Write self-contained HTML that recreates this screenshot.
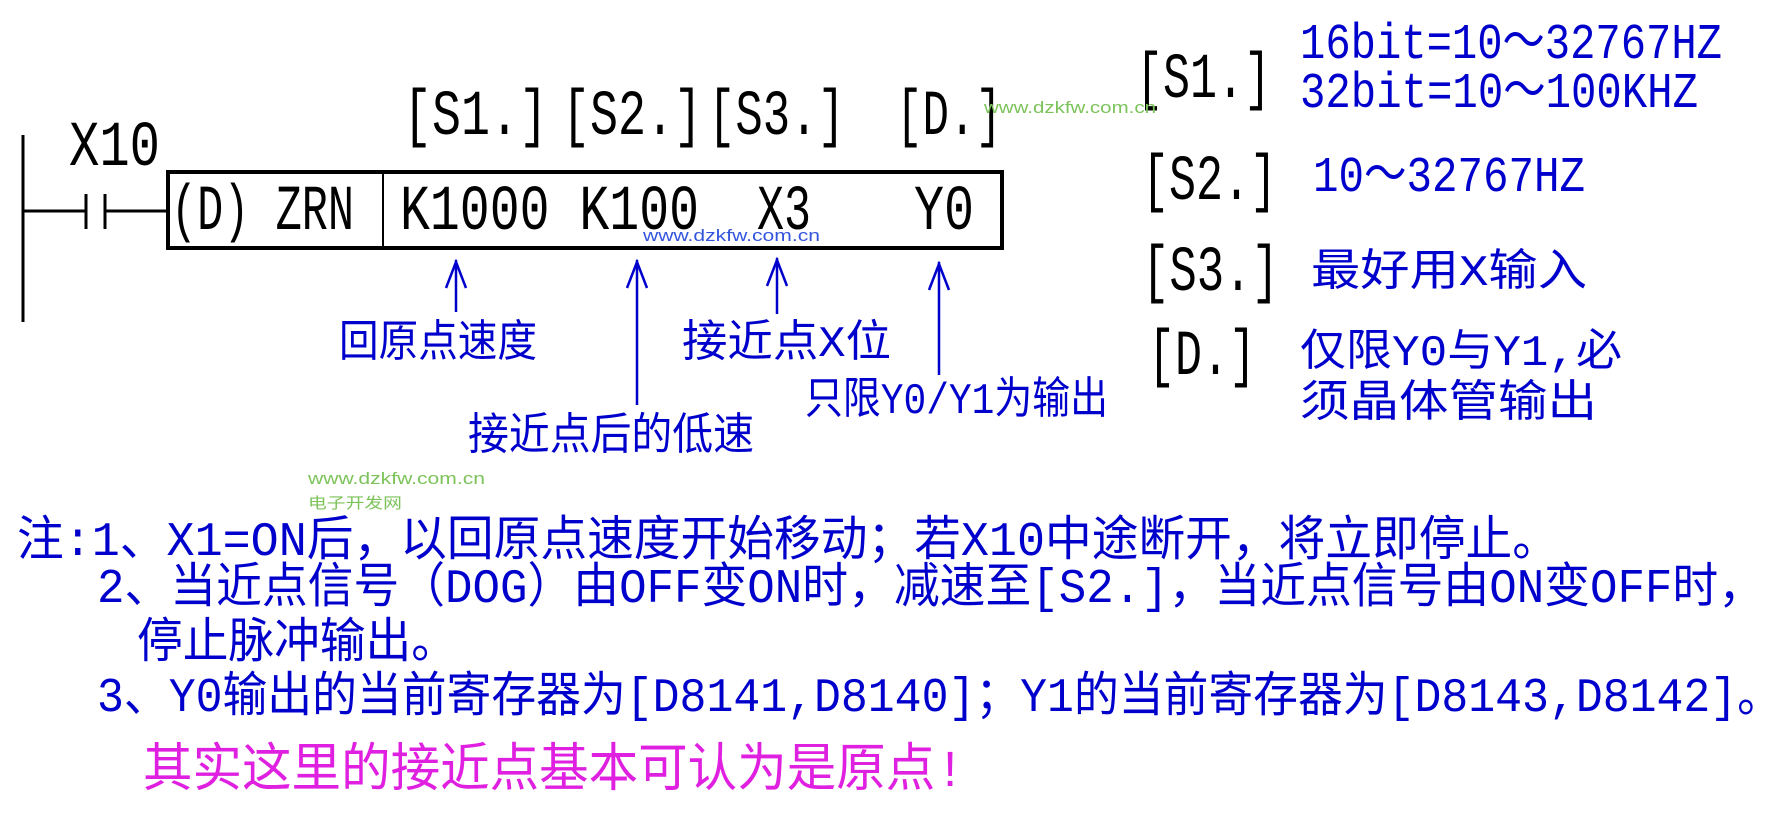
<!DOCTYPE html>
<html><head><meta charset="utf-8"><style>
html,body{margin:0;padding:0;background:#fff;}
svg{display:block;}
text{font-family:"Liberation Mono","Noto Sans CJK SC",monospace;}
.b{fill:#0000cc;}
.k{fill:#000;}
</style></head><body>
<svg width="1791" height="816" viewBox="0 0 1791 816" xmlns="http://www.w3.org/2000/svg">
<g stroke="#000" stroke-width="3" fill="none">
<line x1="23" y1="135" x2="23" y2="322"/>
<line x1="23" y1="211" x2="86" y2="211"/>
<line x1="86" y1="194" x2="86" y2="229"/>
<line x1="105" y1="194" x2="105" y2="229"/>
<line x1="105" y1="211" x2="168" y2="211"/>
<rect x="168" y="172" width="834" height="76" stroke-width="4"/>
<line x1="383" y1="172" x2="383" y2="248" stroke-width="2"/>
</g>
<g class="k" font-size="64">
<text x="69" y="165" textLength="91" lengthAdjust="spacingAndGlyphs">X10</text>
<text x="171" y="229" textLength="183" lengthAdjust="spacingAndGlyphs">(D) ZRN</text>
<text x="400" y="229" textLength="299" lengthAdjust="spacingAndGlyphs">K1000 K100</text>
<text x="757" y="229" textLength="54" lengthAdjust="spacingAndGlyphs">X3</text>
<text x="914" y="229" textLength="60" lengthAdjust="spacingAndGlyphs">Y0</text>
<text x="403" y="134" textLength="145" lengthAdjust="spacingAndGlyphs">[S1.]</text>
<text x="562" y="134" textLength="140" lengthAdjust="spacingAndGlyphs">[S2.]</text>
<text x="708" y="134" textLength="137" lengthAdjust="spacingAndGlyphs">[S3.]</text>
<text x="896" y="134" textLength="106" lengthAdjust="spacingAndGlyphs">[D.]</text>
<text x="1136" y="97" textLength="135" lengthAdjust="spacingAndGlyphs">[S1.]</text>
<text x="1142" y="199" textLength="135" lengthAdjust="spacingAndGlyphs">[S2.]</text>
<text x="1142" y="290" textLength="137" lengthAdjust="spacingAndGlyphs">[S3.]</text>
<text x="1148" y="374" textLength="108" lengthAdjust="spacingAndGlyphs">[D.]</text>
</g>
<g stroke="#0000cc" stroke-width="2.5" fill="none">
<line x1="456" y1="260" x2="456" y2="312"/><polyline points="446,288 456,262 466,288"/>
<line x1="637" y1="260" x2="637" y2="405"/><polyline points="627,288 637,262 647,288"/>
<line x1="777" y1="258" x2="777" y2="314"/><polyline points="767,286 777,260 787,286"/>
<line x1="939" y1="262" x2="939" y2="375"/><polyline points="929,290 939,264 949,290"/>
</g>
<g class="b" font-size="44">
<text x="339" y="356" textLength="198" lengthAdjust="spacingAndGlyphs">回原点速度</text>
<text x="682" y="356" textLength="209" lengthAdjust="spacingAndGlyphs">接近点X位</text>
<text x="805" y="413" textLength="303" lengthAdjust="spacingAndGlyphs">只限Y0/Y1为输出</text>
<text x="468" y="449" textLength="286" lengthAdjust="spacingAndGlyphs">接近点后的低速</text>
<text x="1300" y="58" font-size="50" textLength="422" lengthAdjust="spacingAndGlyphs">16bit=10～32767HZ</text>
<text x="1300" y="107" font-size="50" textLength="398" lengthAdjust="spacingAndGlyphs">32bit=10～100KHZ</text>
<text x="1313" y="191" font-size="50" textLength="272" lengthAdjust="spacingAndGlyphs">10～32767HZ</text>
<text x="1311" y="285" textLength="276" lengthAdjust="spacingAndGlyphs">最好用X输入</text>
<text x="1300" y="365" textLength="322" lengthAdjust="spacingAndGlyphs">仅限Y0与Y1,必</text>
<text x="1300" y="416" textLength="297" lengthAdjust="spacingAndGlyphs">须晶体管输出</text>
</g>
<g class="b" font-size="48">
<text x="17" y="555" textLength="1542" lengthAdjust="spacingAndGlyphs">注:1、X1=ON后，以回原点速度开始移动；若X10中途断开，将立即停止。</text>
<text x="97" y="602" textLength="1667" lengthAdjust="spacingAndGlyphs">2、当近点信号（DOG）由OFF变ON时，减速至[S2.]，当近点信号由ON变OFF时，</text>
<text x="137" y="657" textLength="320" lengthAdjust="spacingAndGlyphs">停止脉冲输出。</text>
<text x="97" y="711" textLength="1685" lengthAdjust="spacingAndGlyphs">3、Y0输出的当前寄存器为[D8141,D8140]；Y1的当前寄存器为[D8143,D8142]。</text>
</g>
<text x="143" y="786" font-size="52" fill="#e020e0" textLength="822" lengthAdjust="spacingAndGlyphs">其实这里的接近点基本可认为是原点!</text>
<g font-size="17">
<text x="984" y="113" fill="#7cc35a" textLength="172" lengthAdjust="spacingAndGlyphs" style="font-family:'Liberation Sans',sans-serif">www.dzkfw.com.cn</text>
<text x="643" y="241" fill="#3355dd" textLength="177" lengthAdjust="spacingAndGlyphs" style="font-family:'Liberation Sans',sans-serif">www.dzkfw.com.cn</text>
<text x="308" y="484" fill="#7cc35a" textLength="177" lengthAdjust="spacingAndGlyphs" style="font-family:'Liberation Sans',sans-serif">www.dzkfw.com.cn</text>
<text x="308" y="508" fill="#7cc35a" font-size="15" textLength="94" lengthAdjust="spacingAndGlyphs" style="font-family:'Liberation Sans','Noto Sans CJK SC',sans-serif">电子开发网</text>
</g>
</svg>
</body></html>
